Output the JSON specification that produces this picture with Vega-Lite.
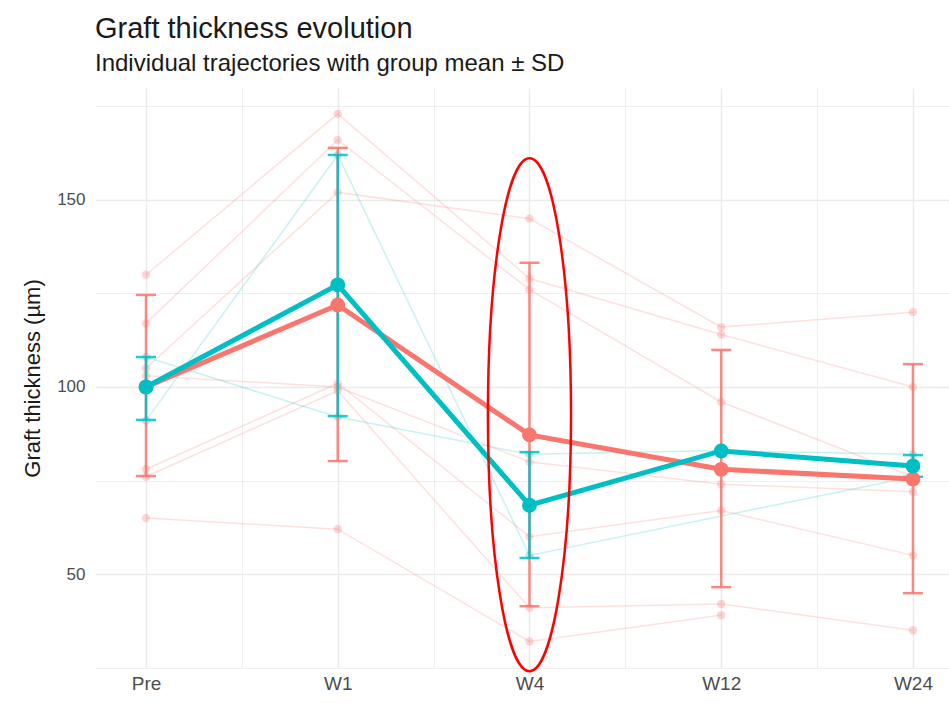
{
  "$schema": "https://vega.github.io/schema/vega-lite/v6.json",
  "width": 854,
  "height": 580,
  "autosize": {"type": "none"},
  "padding": {"left": 95, "top": 88, "right": 0, "bottom": 35},
  "background": "white",
  "title": {
    "text": "Graft thickness evolution",
    "subtitle": "Individual trajectories with group mean ± SD",
    "anchor": "start",
    "frame": "group",
    "font": "Liberation Sans",
    "fontSize": 29,
    "fontWeight": "normal",
    "color": "#1a1a1a",
    "subtitleFont": "Liberation Sans",
    "subtitleFontSize": 24,
    "subtitleColor": "#1a1a1a",
    "subtitlePadding": 8,
    "offset": 12
  },
  "datasets": {
    "tindex": [
      {"time": "Pre", "t": 0},
      {"time": "W1", "t": 1},
      {"time": "W4", "t": 2},
      {"time": "W12", "t": 3},
      {"time": "W24", "t": 4}
    ],
    "ind": [
      {"id": "R1", "group": "G1", "time": "Pre", "value": 130},
      {"id": "R1", "group": "G1", "time": "W1", "value": 173},
      {"id": "R1", "group": "G1", "time": "W4", "value": 129},
      {"id": "R1", "group": "G1", "time": "W12", "value": 114},
      {"id": "R1", "group": "G1", "time": "W24", "value": 100},
      {"id": "R2", "group": "G1", "time": "Pre", "value": 117},
      {"id": "R2", "group": "G1", "time": "W1", "value": 166},
      {"id": "R2", "group": "G1", "time": "W4", "value": 126},
      {"id": "R2", "group": "G1", "time": "W12", "value": 96},
      {"id": "R2", "group": "G1", "time": "W24", "value": 76},
      {"id": "R3", "group": "G1", "time": "Pre", "value": 105},
      {"id": "R3", "group": "G1", "time": "W1", "value": 152},
      {"id": "R3", "group": "G1", "time": "W4", "value": 145},
      {"id": "R3", "group": "G1", "time": "W12", "value": 116},
      {"id": "R3", "group": "G1", "time": "W24", "value": 120},
      {"id": "R4", "group": "G1", "time": "Pre", "value": 103},
      {"id": "R4", "group": "G1", "time": "W1", "value": 100},
      {"id": "R4", "group": "G1", "time": "W4", "value": 80},
      {"id": "R4", "group": "G1", "time": "W12", "value": 74},
      {"id": "R4", "group": "G1", "time": "W24", "value": 72},
      {"id": "R5", "group": "G1", "time": "Pre", "value": 78},
      {"id": "R5", "group": "G1", "time": "W1", "value": 101},
      {"id": "R5", "group": "G1", "time": "W4", "value": 60},
      {"id": "R5", "group": "G1", "time": "W12", "value": 67},
      {"id": "R5", "group": "G1", "time": "W24", "value": 55},
      {"id": "R6", "group": "G1", "time": "Pre", "value": 76},
      {"id": "R6", "group": "G1", "time": "W1", "value": 99},
      {"id": "R6", "group": "G1", "time": "W4", "value": 41},
      {"id": "R6", "group": "G1", "time": "W12", "value": 42},
      {"id": "R6", "group": "G1", "time": "W24", "value": 35},
      {"id": "R7", "group": "G1", "time": "Pre", "value": 65},
      {"id": "R7", "group": "G1", "time": "W1", "value": 62},
      {"id": "R7", "group": "G1", "time": "W4", "value": 32},
      {"id": "R7", "group": "G1", "time": "W12", "value": 39},
      {"id": "T1", "group": "G2", "time": "Pre", "value": 91},
      {"id": "T1", "group": "G2", "time": "W1", "value": 162},
      {"id": "T1", "group": "G2", "time": "W4", "value": 55},
      {"id": "T1", "group": "G2", "time": "W24", "value": 76},
      {"id": "T2", "group": "G2", "time": "Pre", "value": 108},
      {"id": "T2", "group": "G2", "time": "W1", "value": 92},
      {"id": "T2", "group": "G2", "time": "W4", "value": 82},
      {"id": "T2", "group": "G2", "time": "W12", "value": 83},
      {"id": "T2", "group": "G2", "time": "W24", "value": 82}
    ],
    "summary": [
      {"group": "G1", "time": "Pre", "mean": 100, "lo": 76.2, "hi": 124.6},
      {"group": "G1", "time": "W1", "mean": 121.9, "lo": 80.2, "hi": 163.9},
      {"group": "G1", "time": "W4", "mean": 87.2, "lo": 41.4, "hi": 133.2},
      {"group": "G1", "time": "W12", "mean": 78, "lo": 46.5, "hi": 109.9},
      {"group": "G1", "time": "W24", "mean": 75.4, "lo": 44.9, "hi": 106.1},
      {"group": "G2", "time": "Pre", "mean": 100, "lo": 91.2, "hi": 108},
      {"group": "G2", "time": "W1", "mean": 127.3, "lo": 92.2, "hi": 162},
      {"group": "G2", "time": "W4", "mean": 68.4, "lo": 54.3, "hi": 82.6},
      {"group": "G2", "time": "W12", "mean": 82.9},
      {"group": "G2", "time": "W24", "mean": 78.9, "lo": 76, "hi": 81.8}
    ],
    "annot": [
      {"time": "W4", "y": 92.6}
    ]
  },
  "encoding": {
    "x": {
      "field": "t",
      "type": "quantitative",
      "scale": {"domain": [-0.266, 4.188], "nice": false, "zero": false},
      "axis": {
        "title": null,
        "values": [0, 0.5, 1, 1.5, 2, 2.5, 3, 3.5, 4],
        "labelExpr": "datum.value % 1 === 0 ? ['Pre','W1','W4','W12','W24'][datum.value] : ''",
        "labelFont": "Liberation Sans",
        "labelFontSize": 19,
        "labelColor": "#4d4d4d",
        "labelPadding": 6,
        "ticks": false,
        "domain": false,
        "grid": true,
        "gridColor": "#ebebeb",
        "gridWidth": {"condition": {"test": "datum.value % 1 === 0", "value": 1.5}, "value": 0.8}
      }
    },
    "color": {
      "field": "group",
      "type": "nominal",
      "scale": {"domain": ["G1", "G2"], "range": ["#F8766D", "#00BFC4"]},
      "legend": null
    }
  },
  "layer": [
    {
      "data": {"name": "ind"},
      "transform": [{"lookup": "time", "from": {"data": {"name": "tindex"}, "key": "time", "fields": ["t"]}}],
      "mark": {"type": "line", "strokeWidth": 1.5, "opacity": 0.22},
      "encoding": {
        "y": {
          "field": "value",
          "type": "quantitative",
          "scale": {"domain": [24.9, 179.9], "nice": false, "zero": false},
          "axis": {
            "title": "Graft thickness (µm)",
            "titleFont": "Liberation Sans",
            "titleFontSize": 22,
            "titleFontWeight": "normal",
            "titleColor": "#1a1a1a",
            "titlePadding": 12,
            "values": [25, 50, 75, 100, 125, 150, 175],
            "labelExpr": "datum.value % 50 === 0 ? datum.label : ''",
            "labelFont": "Liberation Sans",
            "labelFontSize": 17,
            "labelColor": "#4d4d4d",
            "labelPadding": 10,
            "ticks": false,
            "domain": false,
            "grid": true,
            "gridColor": "#ebebeb",
            "gridWidth": {"condition": {"test": "datum.value % 50 === 0", "value": 1.5}, "value": 0.8}
          }
        },
        "detail": {"field": "id", "type": "nominal"}
      }
    },
    {
      "data": {"name": "ind"},
      "transform": [{"lookup": "time", "from": {"data": {"name": "tindex"}, "key": "time", "fields": ["t"]}}],
      "mark": {"type": "point", "filled": true, "size": 70, "opacity": 0.3},
      "encoding": {
        "y": {"field": "value", "type": "quantitative"}
      }
    },
    {
      "data": {"name": "summary"},
      "transform": [{"lookup": "time", "from": {"data": {"name": "tindex"}, "key": "time", "fields": ["t"]}}],
      "mark": {"type": "rule", "strokeWidth": 2.5, "opacity": 0.85},
      "encoding": {
        "y": {"field": "lo", "type": "quantitative"},
        "y2": {"field": "hi"}
      }
    },
    {
      "data": {"name": "summary"},
      "transform": [{"lookup": "time", "from": {"data": {"name": "tindex"}, "key": "time", "fields": ["t"]}}],
      "mark": {"type": "tick", "orient": "horizontal", "size": 20, "thickness": 2.5, "opacity": 0.85},
      "encoding": {
        "y": {"field": "lo", "type": "quantitative"}
      }
    },
    {
      "data": {"name": "summary"},
      "transform": [{"lookup": "time", "from": {"data": {"name": "tindex"}, "key": "time", "fields": ["t"]}}],
      "mark": {"type": "tick", "orient": "horizontal", "size": 20, "thickness": 2.5, "opacity": 0.85},
      "encoding": {
        "y": {"field": "hi", "type": "quantitative"}
      }
    },
    {
      "data": {"name": "summary"},
      "transform": [{"lookup": "time", "from": {"data": {"name": "tindex"}, "key": "time", "fields": ["t"]}}],
      "mark": {"type": "line", "strokeWidth": 5},
      "encoding": {
        "y": {"field": "mean", "type": "quantitative"}
      }
    },
    {
      "data": {"name": "summary"},
      "transform": [{"lookup": "time", "from": {"data": {"name": "tindex"}, "key": "time", "fields": ["t"]}}],
      "mark": {"type": "point", "filled": true, "size": 220, "opacity": 1},
      "encoding": {
        "y": {"field": "mean", "type": "quantitative"}
      }
    },
    {
      "data": {"name": "annot"},
      "transform": [{"lookup": "time", "from": {"data": {"name": "tindex"}, "key": "time", "fields": ["t"]}}],
      "mark": {
        "type": "point",
        "shape": "M 0 -1 A 0.162 1 0 1 1 0 1 A 0.162 1 0 1 1 0 -1 Z",
        "filled": false,
        "size": 263169,
        "stroke": "#ff0000",
        "strokeWidth": 2.5,
        "opacity": 1
      },
      "encoding": {
        "y": {"field": "y", "type": "quantitative"},
        "color": {"value": "#ff0000"}
      }
    }
  ],
  "config": {
    "view": {"stroke": null},
    "font": "Liberation Sans"
  }
}
